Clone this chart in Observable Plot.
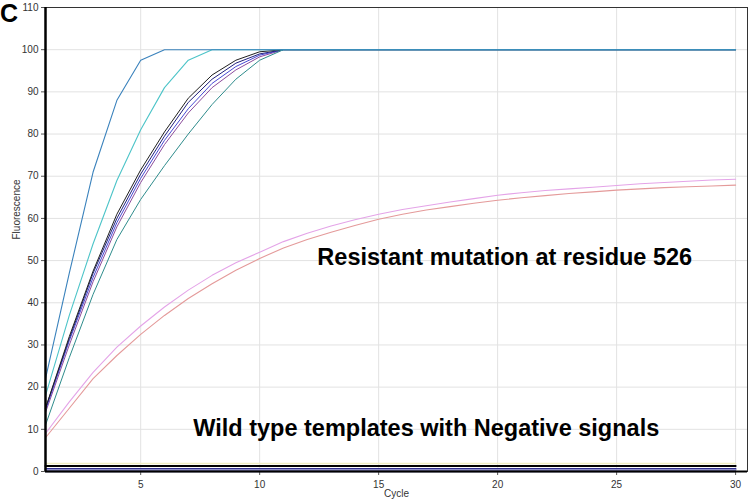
<!DOCTYPE html>
<html><head><meta charset="utf-8">
<script src="https://cdn.jsdelivr.net/npm/d3@7"></script>
<script src="https://cdn.jsdelivr.net/npm/@observablehq/plot@0.6"></script>
<style>
body{margin:0;background:#fff;}
#wrap{position:relative;width:750px;height:501px;font-family:"Liberation Sans",Arial,sans-serif;}
#lab{position:absolute;left:0px;top:1px;font-size:25px;font-weight:bold;line-height:1;z-index:2;}
</style>
</head><body><div id="wrap"><div id="lab">C</div></div>
<script>
// ---- data ----
const cycles = [1,2,3,4,5,6,7,8,9,10,11,12,13,14,15,16,17,18,19,20,21,22,23,24,25,26,27,28,29,30];
const xTicks = [5,10,15,20,25,30];
const yTicks = [0,10,20,30,40,50,60,70,80,90,100,110];

// saturating curves: values per cycle until plateau, then plateau held to cycle 30
const blueEarly = [22, 47, 71, 88, 97.5, 100];
const cyanEarly = [18, 37, 54, 69, 81, 91, 97.5, 100];
const blackCurve = [15, 32, 47.5, 61, 71.5, 80.5, 88.5, 94, 97.5, 99.5, 100];
const navyCurve = [15, 31.5, 47, 60, 70.5, 79.5, 87.5, 93, 96.8, 99, 100];
const blueCurve = [14.5, 31, 46, 59, 69.5, 78.5, 86, 92, 96, 98.7, 100];
const purpleCurve = [14, 30, 45, 58, 68.5, 77.5, 85, 91, 95.2, 98.3, 100];
const tealCurve = [11, 27, 42, 55, 64.5, 72.5, 80, 87, 93, 97.5, 100];
const plateau = 100;

// resistant mutation (pink) curves, one value per cycle
const pinkUpper = [9, 16.5, 23.5, 29.5, 34.5, 39, 43, 46.5, 49.5, 52, 54.5, 56.5, 58.2, 59.7, 61, 62.1, 63, 63.9, 64.7, 65.5, 66.1, 66.6, 67, 67.4, 67.8, 68.2, 68.5, 68.8, 69.1, 69.3];
const pinkLower = [8, 15, 22, 27.5, 32.5, 37, 41, 44.5, 47.7, 50.5, 53, 55, 56.7, 58.3, 59.8, 61, 62, 62.8, 63.6, 64.3, 64.9, 65.4, 65.9, 66.3, 66.7, 67, 67.3, 67.5, 67.7, 67.9];

// wild-type negative signals: flat lines (start and end cycle)
const flatCycles = [1, 30];
const flatYellow = [1.9, 1.9];
const flatBlack = [1.3, 1.3];
const flatNavy = [0.6, 0.6];
const flatLavender = [0.35, 0.35];
const flatDark = [0.05, 0.05];

const annotations = [
  {label: "Resistant mutation at residue 526", cycle: 20.3, value: 50.7},
  {label: "Wild type templates with Negative signals", cycle: 17.0, value: 10.2}
];

// ---- build rows ----
function satRows(name, vals) {
  const rows = vals.map((v, i) => ({series: name, cycle: cycles[i], value: v}));
  rows.push({series: name, cycle: cycles[cycles.length - 1], value: plateau});
  return rows;
}
function fullRows(name, vals) { return vals.map((v, i) => ({series: name, cycle: cycles[i], value: v})); }
function flatRows(name, vals) { return vals.map((v, i) => ({series: name, cycle: flatCycles[i], value: v})); }

const styles = [
  {name: "pinkLower", rows: fullRows("pinkLower", pinkLower), stroke: "#e49a9a", w: 1.1},
  {name: "pinkUpper", rows: fullRows("pinkUpper", pinkUpper), stroke: "#e4a4e8", w: 1.1},
  {name: "flatYellow", rows: flatRows("flatYellow", flatYellow), stroke: "#f0eec4", w: 1.5},
  {name: "flatBlack", rows: flatRows("flatBlack", flatBlack), stroke: "#000000", w: 2},
  {name: "flatNavy", rows: flatRows("flatNavy", flatNavy), stroke: "#30308c", w: 1.8},
  {name: "flatLavender", rows: flatRows("flatLavender", flatLavender), stroke: "#b4b4ea", w: 1.2},
  {name: "flatDark", rows: flatRows("flatDark", flatDark), stroke: "#16165a", w: 1.8},
  {name: "purple", rows: satRows("purple", purpleCurve), stroke: "#8c4c9c", w: 1},
  {name: "blue", rows: satRows("blue", blueCurve), stroke: "#4848d4", w: 1},
  {name: "navy", rows: satRows("navy", navyCurve), stroke: "#20207c", w: 1},
  {name: "black", rows: satRows("black", blackCurve), stroke: "#202020", w: 1},
  {name: "teal", rows: satRows("teal", tealCurve), stroke: "#2e8c8c", w: 1},
  {name: "cyan", rows: satRows("cyan", cyanEarly), stroke: "#4cc4c8", w: 1.1},
  {name: "blueEarly", rows: satRows("blueEarly", blueEarly), stroke: "#3a82bc", w: 1.1}
];

const lineMarks = styles.map(s => Plot.line(s.rows, {x: "cycle", y: "value", stroke: s.stroke, strokeWidth: s.w}));

const chart = Plot.plot({
  width: 750, height: 501,
  marginLeft: 45, marginRight: 3, marginTop: 7, marginBottom: 30,
  style: {fontFamily: "'Liberation Sans', Arial, sans-serif", fontSize: "10px", color: "#333", background: "#fff"},
  x: {domain: [1, 30.5], label: null},
  y: {domain: [0, 110], label: null},
  marks: [
    Plot.gridX(xTicks, {stroke: "#e2e2e2", strokeOpacity: 1}),
    Plot.gridY(yTicks, {stroke: "#e2e2e2", strokeOpacity: 1}),
    Plot.frame({stroke: "#333", strokeWidth: 1}),
    ...lineMarks,
    Plot.axisX(xTicks, {tickSize: 4, tickPadding: 5, label: null, stroke: "#555", fill: "#333"}),
    Plot.axisY(yTicks, {tickSize: 4, tickPadding: 3, label: null, stroke: "#555", fill: "#333"}),
    Plot.ruleX([1], {stroke: "#000", strokeWidth: 2.5}),
    Plot.ruleY([0], {stroke: "#000", strokeWidth: 2}),
    Plot.text(["Cycle"], {frameAnchor: "bottom", dy: 25, fill: "#333", fontSize: 10}),
    Plot.text(["Fluorescence"], {frameAnchor: "left", rotate: -90, dx: -29, fill: "#333", fontSize: 10}),
    Plot.text(annotations, {x: "cycle", y: "value", text: "label", fontSize: 23.5, fontWeight: "bold", fill: "#000", textAnchor: "middle"})
  ]
});
document.getElementById("wrap").appendChild(chart);
</script>
</body></html>
